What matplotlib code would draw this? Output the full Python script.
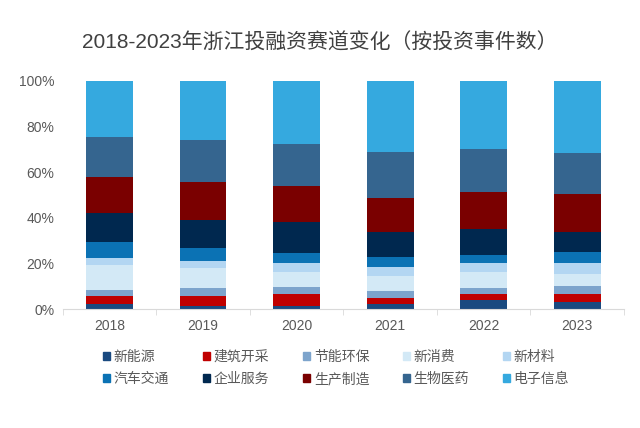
import numpy as np
import matplotlib.pyplot as plt
from matplotlib.patches import Patch

plt.rcParams['font.family'] = ['Liberation Sans', 'Noto Sans CJK SC', 'DejaVu Sans']

years = ['2018', '2019', '2020', '2021', '2022', '2023']
sectors = ['新能源', '建筑开采', '节能环保', '新消费', '新材料',
           '汽车交通', '企业服务', '生产制造', '生物医药', '电子信息']

# 各赛道占比（%），从下往上堆叠
新能源 = [2.2, 1.3, 1.3, 2.2, 3.9, 3.1]
建筑开采 = [3.5, 4.4, 5.3, 2.8, 2.7, 3.5]
节能环保 = [2.6, 3.7, 2.9, 2.9, 2.6, 3.6]
新消费 = [11.0, 8.4, 6.7, 6.7, 6.9, 5.0]
新材料 = [2.9, 3.4, 3.8, 3.8, 3.9, 4.8]
汽车交通 = [7.0, 5.6, 4.6, 4.6, 3.8, 5.1]
企业服务 = [12.8, 12.2, 13.6, 10.9, 11.3, 8.7]
生产制造 = [16.0, 16.7, 15.9, 14.9, 16.1, 16.5]
生物医药 = [17.3, 18.4, 18.1, 20.1, 18.8, 18.1]
电子信息 = [24.7, 25.9, 27.8, 31.1, 30.0, 31.6]

data = [新能源, 建筑开采, 节能环保, 新消费, 新材料, 汽车交通, 企业服务, 生产制造, 生物医药, 电子信息]
colors = ['#1A4A80', '#C00000', '#7DA4CC', '#D3E9F6', '#B3D6F2',
          '#0B72B4', '#00284F', '#7A0000', '#35658F', '#35A9DF']

fig = plt.figure(figsize=(6.4, 4.28), dpi=100)
ax = fig.add_axes([0.098, 0.278, 0.877, 0.533])

x = np.arange(len(years))
bottom = np.zeros(len(years))
for vals, c, name in zip(data, colors, sectors):
    vals = np.array(vals)
    ax.bar(x, vals, 0.5, bottom=bottom, color=c, label=name)
    bottom += vals

ax.set_xlim(-0.5, len(years) - 0.5)
ax.set_ylim(0, 100)
ax.set_yticks(range(0, 101, 20))
ax.set_yticklabels([f'{v}%' for v in range(0, 101, 20)])
ax.set_xticks(x)
ax.set_xticklabels(years)
ax.set_xticks(np.arange(-0.5, len(years), 1), minor=True)
ax.tick_params(axis='x', which='major', length=0, pad=7)
ax.tick_params(axis='x', which='minor', length=4, color='#D9D9D9')
ax.tick_params(axis='y', length=0, pad=6)
ax.tick_params(labelsize=10, labelcolor='#595959')
for s in ['top', 'right', 'left']:
    ax.spines[s].set_visible(False)
ax.spines['bottom'].set_color('#D9D9D9')

fig.suptitle('2018-2023年浙江投融资赛道变化（按投资事件数）', x=0.5, y=0.925,
             fontsize=15, color='#404040')

handles = [Patch(color=c) for c in colors]
order = [0, 5, 1, 6, 2, 7, 3, 8, 4, 9]
fig.legend([handles[i] for i in order], [sectors[i] for i in order],
           ncol=5, loc='center', bbox_to_anchor=(0.525, 0.14), frameon=False,
           fontsize=10, labelcolor='#595959', handlelength=0.5, handleheight=0.5,
           handletextpad=0.3, columnspacing=2.4, labelspacing=0.6)

fig.savefig('out.png', dpi=100)
